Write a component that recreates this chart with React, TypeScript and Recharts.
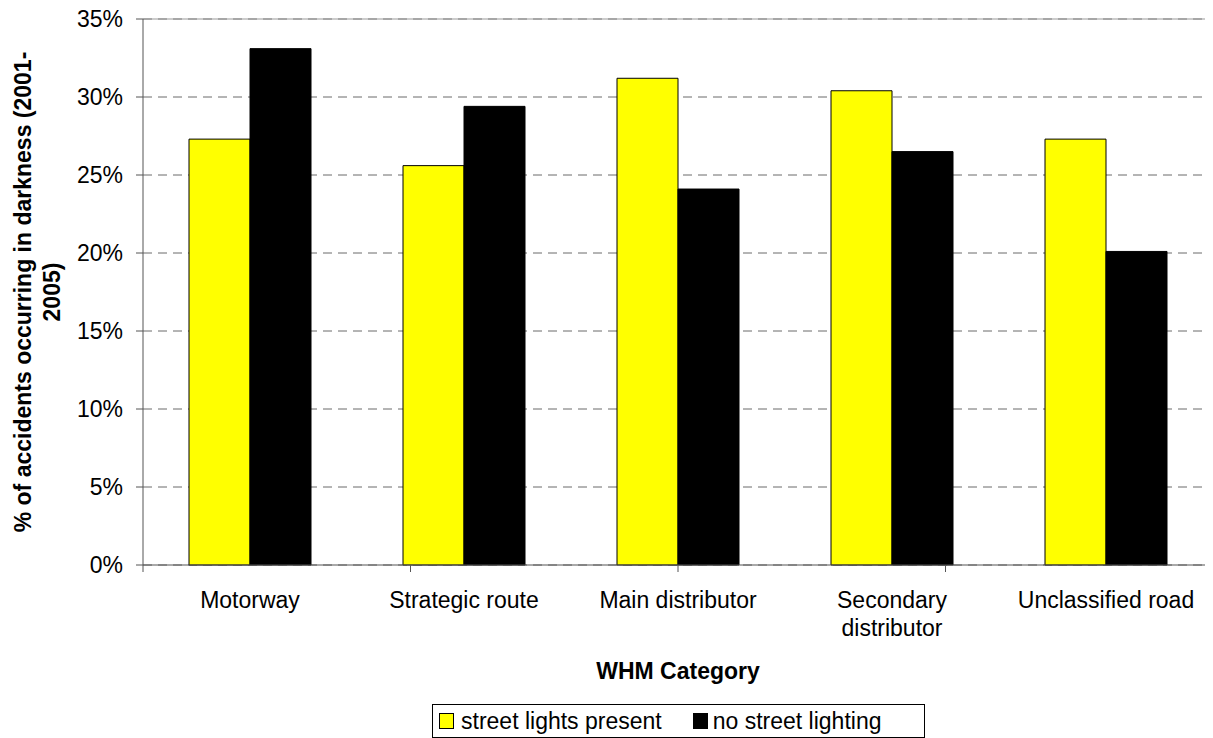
import React from "react";
import {
  BarChart,
  Bar,
  XAxis,
  YAxis,
  CartesianGrid,
  Legend,
  Label,
  ReferenceLine,
} from "recharts";

const categories = [
  "Motorway",
  "Strategic route",
  "Main distributor",
  "Secondary distributor",
  "Unclassified road",
];
const streetLightsPresent = [27.3, 25.6, 31.2, 30.4, 27.3];
const noStreetLighting = [33.1, 29.4, 24.1, 26.5, 20.1];
const yTicks = [0, 5, 10, 15, 20, 25, 30, 35];
const boundaryTicks = [0, 1, 2, 3, 4, 5];
const seriesNames = ["street lights present", "no street lighting"];

const data = categories.map((name, i) => ({
  name,
  present: streetLightsPresent[i],
  none: noStreetLighting[i],
}));

const FONT = "Arial, 'Liberation Sans', sans-serif";

const splitLabel = (s: string): string[] => {
  if (s.length <= 18) return [s];
  const words = s.split(" ");
  const half = Math.ceil(words.length / 2);
  return [words.slice(0, half).join(" "), words.slice(half).join(" ")];
};

const CategoryTick = (props: any) => {
  const { x, y, payload } = props;
  const lines = splitLabel(String(payload.value));
  return (
    <text
      x={x}
      y={y + 35}
      textAnchor="middle"
      fontSize={23}
      fill="#000"
      fontFamily={FONT}
    >
      {lines.map((l, i) => (
        <tspan key={i} x={x} dy={i === 0 ? 0 : 28}>
          {l}
        </tspan>
      ))}
    </text>
  );
};

const YTitle = (props: any) => {
  const vb = props.viewBox || { x: 0, y: 11, width: 135, height: 546 };
  const cy = vb.y + vb.height / 2;
  const x1 = vb.x + 23;
  const x2 = vb.x + 52;
  return (
    <g>
      <text
        x={x1}
        y={cy}
        transform={`rotate(-90 ${x1} ${cy})`}
        textAnchor="middle"
        fontSize={23}
        fontWeight="bold"
        fill="#000"
        fontFamily={FONT}
      >
        % of accidents occurring in darkness (2001-
      </text>
      <text
        x={x2}
        y={cy}
        transform={`rotate(-90 ${x2} ${cy})`}
        textAnchor="middle"
        fontSize={23}
        fontWeight="bold"
        fill="#000"
        fontFamily={FONT}
      >
        2005)
      </text>
    </g>
  );
};

const XTitle = (props: any) => {
  const vb = props.viewBox || { x: 135, y: 565, width: 1070, height: 131 };
  return (
    <text
      x={vb.x + vb.width / 2}
      y={vb.y + 106}
      textAnchor="middle"
      fontSize={23}
      fontWeight="bold"
      fill="#000"
      fontFamily={FONT}
    >
      WHM Category
    </text>
  );
};

const renderLegend = (props: any) => {
  const payload = [...(props.payload || [])].sort(
    (a: any, b: any) => seriesNames.indexOf(a.value) - seriesNames.indexOf(b.value)
  );
  return (
    <div
      style={{
        boxSizing: "border-box",
        width: 493,
        height: 34,
        border: "1px solid #000",
        display: "flex",
        alignItems: "center",
        paddingLeft: 6,
        fontFamily: FONT,
        fontSize: 23,
        color: "#000",
        whiteSpace: "nowrap",
      }}
    >
      {payload.map((entry: any, i: number) => (
        <div
          key={i}
          style={{
            display: "flex",
            alignItems: "center",
            marginRight: i === 0 ? 31 : 0,
          }}
        >
          <span
            style={{
              display: "inline-block",
              boxSizing: "border-box",
              width: 15,
              height: 16,
              background: entry.color,
              border: "1px solid #000",
              marginRight: i === 0 ? 7 : 5,
            }}
          />
          <span>{entry.value}</span>
        </div>
      ))}
    </div>
  );
};

export default function App() {
  return (
    <div style={{ width: 1205, height: 730 }}>
      <BarChart
        width={1205}
        height={730}
        data={data}
        margin={{ top: 11, right: 0, left: 0, bottom: 0 }}
        barCategoryGap="21.5%"
        barGap={0}
        style={{ fontFamily: FONT }}
      >
        <CartesianGrid
          xAxisId="cat"
          vertical={false}
          stroke="#6a6a6a"
          strokeDasharray="9 6"
        />
        <XAxis
          xAxisId="b"
          type="number"
          domain={[0, 5]}
          ticks={boundaryTicks}
          allowDataOverflow
          height={8}
          tickSize={7}
          tickMargin={0}
          tickFormatter={() => ""}
          axisLine={{ stroke: "#555" }}
          tickLine={{ stroke: "#555" }}
        />
        <XAxis
          xAxisId="cat"
          dataKey="name"
          interval={0}
          height={131}
          axisLine={false}
          tickLine={false}
          tickSize={0}
          tickMargin={0}
          tick={<CategoryTick />}
        >
          <Label content={<XTitle />} />
        </XAxis>
        <YAxis
          width={135}
          domain={[0, 35]}
          ticks={yTicks}
          interval={0}
          tickFormatter={(v: number) => `${v}%`}
          tick={{ fill: "#000", fontSize: 23, fontFamily: FONT }}
          tickSize={7}
          tickMargin={13}
          axisLine={{ stroke: "#555" }}
          tickLine={{ stroke: "#555" }}
        >
          <Label content={<YTitle />} />
        </YAxis>
        <ReferenceLine xAxisId="cat" y={35} stroke="#999" />
        <Legend
          verticalAlign="bottom"
          content={renderLegend}
          wrapperStyle={{ left: 424, width: 493 }}
        />
        <Bar
          xAxisId="cat"
          dataKey="present"
          name={seriesNames[0]}
          fill="#FFFF00"
          stroke="#000"
          strokeWidth={1}
          isAnimationActive={false}
        />
        <Bar
          xAxisId="cat"
          dataKey="none"
          name={seriesNames[1]}
          fill="#000000"
          stroke="#000"
          strokeWidth={1}
          isAnimationActive={false}
        />
      </BarChart>
    </div>
  );
}
